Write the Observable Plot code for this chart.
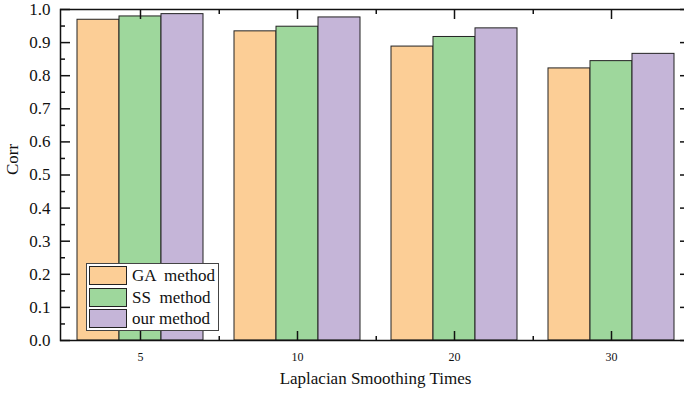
<!DOCTYPE html>
<html>
<head>
<meta charset="utf-8">
<script src="https://cdn.jsdelivr.net/npm/d3@7"></script>
<script src="https://cdn.jsdelivr.net/npm/@observablehq/plot@0.6"></script>
<style>
  html, body { margin: 0; padding: 0; background: #fff; overflow: hidden; }
  #wrap { position: relative; width: 684px; height: 397px; overflow: hidden; }
  #wrap svg { max-width: none !important; }
  #legend { position: absolute; left: 86px; top: 263px; width: 131px; height: 66px;
    border: 1px solid #444; background: #fff; font-family: "Liberation Serif", "DejaVu Serif", serif; font-size: 17px; }
  .row { position: absolute; left: 2px; height: 19px; display: flex; align-items: center; }
  .sw { width: 36px; height: 17px; border: 1.5px solid #222; box-sizing: content-box; }
  .lab { margin-left: 5px; white-space: pre; color: #111; line-height: 19px; }
</style>
</head>
<body>
<div id="wrap"></div>
<script>
const categories = ["5", "10", "20", "30"];
const methods = ["GA  method", "SS  method", "our method"];
const gaValues = [0.969, 0.934, 0.888, 0.822];
const ssValues = [0.979, 0.948, 0.917, 0.844];
const ourValues = [0.986, 0.976, 0.943, 0.866];
const colors = ["#FCCE96", "#9ED79C", "#C5B5D8"];
const yTicks = [0, 0.1, 0.2, 0.3, 0.4, 0.5, 0.6, 0.7, 0.8, 0.9, 1.0];
const yMinorTicks = [0.05, 0.15, 0.25, 0.35, 0.45, 0.55, 0.65, 0.75, 0.85, 0.95];
const xLabel = "Laplacian Smoothing Times";
const yLabel = "Corr";

const series = [gaValues, ssValues, ourValues];
const rows = [];
series.forEach((vals, j) => categories.forEach((c, i) => rows.push({category: c, method: methods[j], value: vals[i]})));

const serif = '"Liberation Serif", "DejaVu Serif", serif';
const W = 692, ML = 60, MR = 2, MT = 9, MB = 57, H = 397;
const plotW = W - ML - MR;           // 630
const plotH = H - MT - MB;           // 331
const barW = 42;
const insets = [[0, 2 * barW], [barW, barW], [2 * barW, 0]];
const halfStep = plotW / 4 / 2;
const px = p => p / plotH;           // pixel length in y units (for vertical tick lengths)
const tk = {stroke: "#111", strokeWidth: 1.5};

const chart = Plot.plot({
  width: W,
  height: H,
  marginLeft: ML,
  marginRight: MR,
  marginTop: MT,
  marginBottom: MB,
  style: {fontFamily: serif, background: "transparent", color: "#111", maxWidth: "none"},
  x: {type: "band", domain: categories, paddingInner: 0.2, paddingOuter: 0.1, axis: null},
  y: {domain: [0, 1], axis: null},
  color: {domain: methods, range: colors},
  marks: [
    ...methods.map((m, j) => Plot.barY(rows.filter(d => d.method === m), {
      x: "category", y: "value", fill: "method", stroke: "#222", strokeWidth: 1,
      insetLeft: insets[j][0], insetRight: insets[j][1]
    })),
    Plot.frame({stroke: "#111", strokeWidth: 1.5}),
    // y ticks (inward), left and right
    Plot.tickY(yTicks, {y: d => d, insetRight: plotW - 10, ...tk}),
    Plot.tickY(yMinorTicks, {y: d => d, insetRight: plotW - 5, ...tk}),
    Plot.tickY(yTicks, {y: d => d, insetLeft: plotW - 10, ...tk}),
    Plot.tickY(yMinorTicks, {y: d => d, insetLeft: plotW - 5, ...tk}),
    // x ticks (inward), bottom and top
    Plot.ruleX(categories, {x: d => d, y1: 0, y2: px(9), ...tk}),
    Plot.ruleX(categories, {x: d => d, y1: 1, y2: 1 - px(10), ...tk}),
    Plot.ruleX(categories.slice(0, -1), {x: d => d, dx: halfStep, y1: 0, y2: px(4), ...tk}),
    Plot.ruleX(categories.slice(0, -1), {x: d => d, dx: halfStep, y1: 1, y2: 1 - px(5), ...tk}),
    Plot.axisY(yTicks, {tickSize: 0, tickPadding: 10, tickFormat: d3.format(".1f"), fontSize: 17, fontFamily: serif, label: null, fill: "#111"}),
    Plot.axisX(categories, {tickSize: 0, tickPadding: 12, fontSize: 12, fontFamily: serif, label: null, fill: "#111"}),
    Plot.text([xLabel], {frameAnchor: "bottom", dy: 43, fontSize: 17, fontFamily: serif, fill: "#111"}),
    Plot.text([yLabel], {frameAnchor: "left", dx: -47.5, rotate: -90, fontSize: 17, fontFamily: serif, fill: "#111"})
  ]
});

const wrap = document.getElementById("wrap");
wrap.appendChild(chart);

const legend = document.createElement("div");
legend.id = "legend";
methods.forEach((m, j) => {
  const row = document.createElement("div");
  row.className = "row";
  row.style.top = (2 + j * 21.5) + "px";
  const sw = document.createElement("div");
  sw.className = "sw";
  sw.style.background = colors[j];
  const lab = document.createElement("span");
  lab.className = "lab";
  lab.textContent = m;
  row.appendChild(sw);
  row.appendChild(lab);
  legend.appendChild(row);
});
wrap.appendChild(legend);
</script>
</body>
</html>
